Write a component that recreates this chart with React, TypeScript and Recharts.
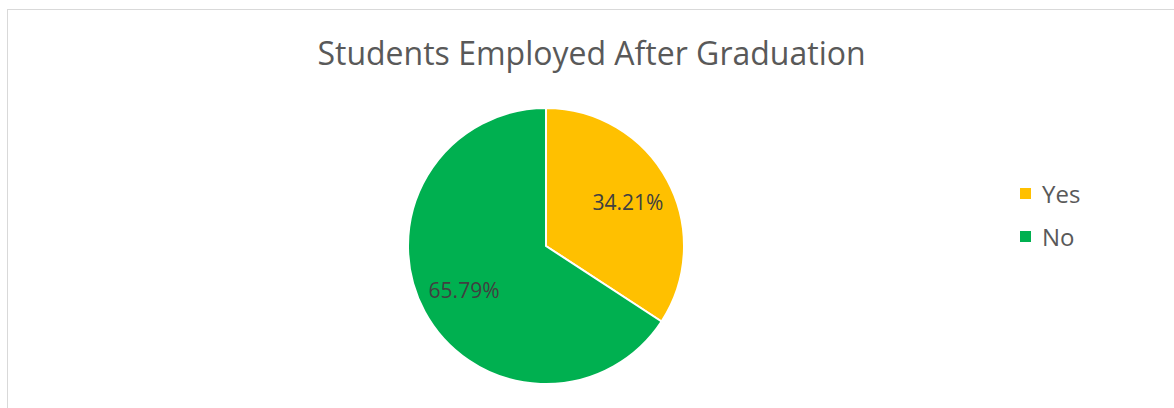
import { PieChart, Pie, Cell, Legend } from "recharts";

const categories = ["Yes", "No"];
const shares = [34.21, 65.79];
const colors = ["#FFC000", "#00B050"];

const data = categories.map((name, i) => ({ name, value: shares[i] }));

const RAD = Math.PI / 180;
const FONT = "'Open Sans', 'Liberation Sans', sans-serif";

function renderLabel(props: any) {
    const { cx, cy, midAngle, outerRadius, percent } = props;
    const r = outerRadius * 0.675;
    const x = cx + r * Math.cos(-midAngle * RAD);
    const y = cy + r * Math.sin(-midAngle * RAD);
    return (
        <text
            x={x}
            y={y}
            fill="#404040"
            fontSize={21}
            fontFamily={FONT}
            textAnchor="middle"
            dominantBaseline="central"
        >
            {`${(percent * 100).toFixed(2)}%`}
        </text>
    );
}

// legend keeps the data order (Recharts would sort it by name)
function LegendContent() {
    return (
        <ul style={{ listStyle: "none", margin: 0, padding: 0 }}>
            {categories.map((name, i) => (
                <li
                    key={name}
                    style={{ display: "flex", alignItems: "center", height: 43, fontFamily: FONT, fontSize: 24, color: "#595959" }}
                >
                    <span style={{ display: "inline-block", width: 11, height: 11, background: colors[i], marginRight: 11 }} />
                    {name}
                </li>
            ))}
        </ul>
    );
}

export default function App() {
    return (
        <div style={{ position: "fixed", left: 0, top: 0, width: 1174, height: 408, overflow: "hidden", background: "#fff" }}>
            <div style={{ position: "absolute", left: 7, top: 9, width: 1300, height: 500, border: "1px solid #d9d9d9" }} />
            <div
                style={{
                    position: "absolute",
                    left: 0,
                    top: 31,
                    width: 1183,
                    textAlign: "center",
                    fontFamily: FONT,
                    fontSize: 32,
                    lineHeight: "44px",
                    color: "#595959",
                }}
            >
                Students Employed After Graduation
            </div>
            <div style={{ position: "absolute", left: 0, top: 0 }}>
                <PieChart width={1174} height={408}>
                    <Pie
                        data={data}
                        dataKey="value"
                        nameKey="name"
                        cx={541}
                        cy={241}
                        outerRadius={138}
                        startAngle={90}
                        endAngle={-270}
                        stroke="#ffffff"
                        strokeWidth={2}
                        label={renderLabel}
                        labelLine={false}
                        isAnimationActive={false}
                    >
                        {data.map((d, i) => (
                            <Cell key={d.name} fill={colors[i]} />
                        ))}
                    </Pie>
                    <Legend
                        layout="vertical"
                        content={<LegendContent />}
                        wrapperStyle={{ left: 1020, top: 172, width: 120, bottom: "auto", right: "auto" }}
                    />
                </PieChart>
            </div>
        </div>
    );
}
